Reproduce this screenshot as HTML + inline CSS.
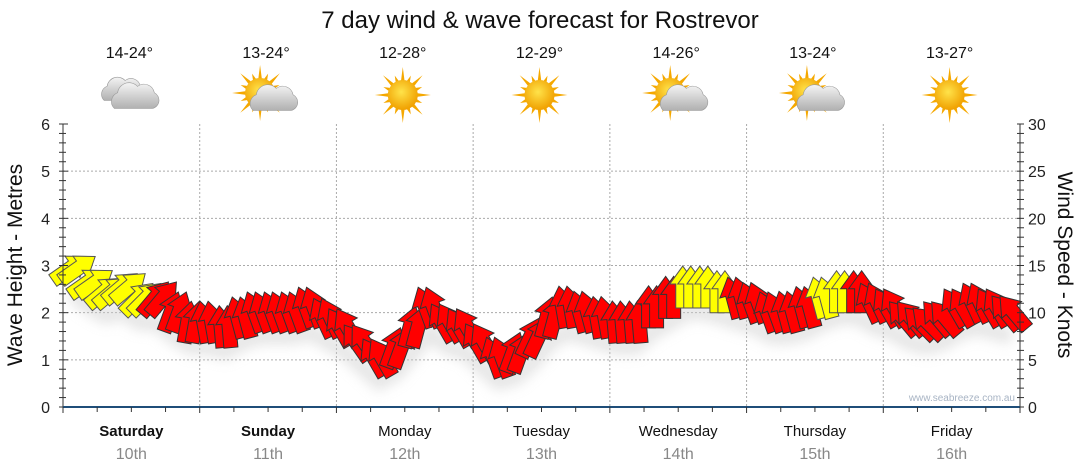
<!DOCTYPE html>
<html><head><meta charset="utf-8">
<style>
body{margin:0;background:#fff;font-family:"Liberation Sans",sans-serif;}
svg{display:block}
</style></head>
<body>
<svg id="chart" width="1080" height="475">
<defs>
<radialGradient id="sunG" cx="0.45" cy="0.4" r="0.6"><stop offset="0" stop-color="#ffe34a"/><stop offset="1" stop-color="#f0a000"/></radialGradient>
<linearGradient id="cloudG" x1="0" y1="0" x2="0" y2="1"><stop offset="0" stop-color="#f4f4f4"/><stop offset="1" stop-color="#b0b0b0"/></linearGradient>
<filter id="sh" x="-50%" y="-50%" width="200%" height="200%"><feGaussianBlur stdDeviation="6"/></filter>
</defs>
<text x="540" y="28" text-anchor="middle" font-size="24" fill="#111">7 day wind &amp; wave forecast for Rostrevor</text>
<g id="grid"></g>
<g id="icons"></g>
<g id="marks"></g>
<g id="axes"></g>
<text x="0" y="0" transform="translate(22,265) rotate(-90)" text-anchor="middle" font-size="21" fill="#111">Wave Height - Metres</text>
<text x="0" y="0" transform="translate(1058,265) rotate(90)" text-anchor="middle" font-size="21" fill="#111">Wind Speed - Knots</text>
<text x="1015" y="401" text-anchor="end" font-size="10" fill="#a8b4c4">www.seabreeze.com.au</text>
</svg>
<script>
const days=["Saturday","Sunday","Monday","Tuesday","Wednesday","Thursday","Friday"];
const dates=["10th","11th","12th","13th","14th","15th","16th"];
const temps=["14-24°","13-24°","12-28°","12-29°","14-26°","13-24°","13-27°"];
const weather=["cloud","partly","sun","sun","partly","partly","sun"];
const waveTicks=[0,1,2,3,4,5,6];
const windTicks=[0,5,10,15,20,25,30];
const windSpeed=[14.5,13,12,12.5,11.3,11.3,9.8,8.7, 8.7,8.2,9.2,9.8,9.8,9.8,10.3,9.2, 8.2,6.6,5,6,8.2,10.3,8.7,8.2, 6.6,5,5.5,7.1,9.2,10.3,9.8,9.2, 8.7,8.7,10.3,11.3,12.4,12.4,11.9,11.3, 10.8,9.8,9.8,10.3,11.3,11.9,11.9,10.8, 10.3,9.2,8.7,9.2,10.3,10.8,10.3,9.8];
const windDir=[55,55,50,50,45,40,20,10, -10,-5,-15,-20,-20,-20,-20,-25, -30,-35,-30,20,15,-20,-30,-30, -30,-20,20,25,15,-10,-15,-10, -5,-5,0,0,0,0,0,-15, -20,-20,-15,-15,-15,0,0,-25, -30,-40,-45,-40,-30,-25,-30,-40];
const windColor=["y","y","y","y","y","r","r","r", "r","r","r","r","r","r","r","r", "r","r","r","r","r","r","r","r", "r","r","r","r","r","r","r","r", "r","r","r","r","y","y","y","r", "r","r","r","r","y","y","r","r", "r","r","r","r","r","r","r","r"];

const NS="http://www.w3.org/2000/svg";
const X0=63,X1=1020,Y0=407,Y1=124,DW=(X1-X0)/7;
const yW=v=>Y0-(v/6)*(Y0-Y1);
const yK=v=>Y0-(v/30)*(Y0-Y1);
const xT=i=>X0+(i+0.5)*DW/8;
function mk(tag,at,parent){const e=document.createElementNS(NS,tag);for(const k in at)e.setAttribute(k,at[k]);parent.appendChild(e);return e;}
const grid=document.getElementById('grid'),axes=document.getElementById('axes'),marks=document.getElementById('marks'),icons=document.getElementById('icons');

waveTicks.forEach(v=>{if(v>0&&v<6){const l=mk('line',{x1:X0,x2:X1,y1:yW(v),y2:yW(v),stroke:'#aaa','stroke-dasharray':'2,2'},grid);

}
const t=mk('text',{x:50,y:yW(v)+6,'text-anchor':'end','font-size':16,fill:'#222'},axes);t.textContent=v;

});
windTicks.forEach(v=>{const t=mk('text',{x:1028,y:yK(v)+6,'font-size':16,fill:'#222'},axes);t.textContent=v;

});
for(let i=0;i<=30;i++){const y=Y0-i*(Y0-Y1)/30;mk('line',{x1:X0-4,x2:X0+(i%5==0?5:3),y1:y,y2:y,stroke:'#333'},axes);mk('line',{x1:X1-3,x2:X1+4,y1:y,y2:y,stroke:'#333'},axes);}
mk('line',{x1:X0,x2:X0,y1:Y1,y2:Y0,stroke:'#333'},axes);
mk('line',{x1:X1,x2:X1,y1:Y1,y2:Y0,stroke:'#333'},axes);
mk('line',{x1:X0,x2:X1,y1:Y0,y2:Y0,stroke:'#1f4e79','stroke-width':2},axes);
for(let i=0;i<=28;i++){const x=X0+i*DW/4;mk('line',{x1:x,x2:x,y1:Y0,y2:Y0+(i%4==0?6:5),stroke:'#333'},axes);}
days.forEach((d,i)=>{const cx=X0+(i+0.5)*DW;
if(i>0){const l=mk('line',{x1:X0+i*DW,x2:X0+i*DW,y1:Y1,y2:Y0,stroke:'#aaa','stroke-dasharray':'2,2'},grid);

}
const t=mk('text',{x:cx,y:436,'text-anchor':'middle','font-size':15,fill:'#111','font-weight':i<2?'bold':'normal'},axes);t.textContent=d;


const t2=mk('text',{x:cx,y:459,'text-anchor':'middle','font-size':16,fill:'#888'},axes);t2.textContent=dates[i];


const t3=mk('text',{x:cx-2,y:58,'text-anchor':'middle','font-size':16,fill:'#111'},icons);t3.textContent=temps[i];


const g=mk('g',{transform:`translate(${cx-2},95)`},icons);


const w=weather[i];
if(w!=='cloud'){const sx=w==='sun'?0:-6,sy=w==='sun'?0:-2;
for(let a=0;a<16;a++){const r=a*Math.PI/8,L=a%2?21:28;mk('polygon',{points:`${sx+Math.cos(r-0.13)*14},${sy+Math.sin(r-0.13)*14} ${sx+Math.cos(r)*L},${sy+Math.sin(r)*L} ${sx+Math.cos(r+0.13)*14},${sy+Math.sin(r+0.13)*14}`,fill:'#f5a800'},g);}
mk('circle',{cx:sx,cy:sy,r:15,fill:'url(#sunG)'},g);}
function cloud(ox,oy,s){mk('path',{d:`M${ox-18*s},${oy+10*s} a${9*s} ${9*s} 0 0 1 ${3*s},${-15*s} a${11*s} ${11*s} 0 0 1 ${19*s},${-6*s} a${10*s} ${10*s} 0 0 1 ${16*s},${6*s} a${8*s} ${8*s} 0 0 1 ${-2*s},${15*s} z`,fill:'url(#cloudG)',stroke:'#999','stroke-width':0.6},g);}
if(w==='cloud'){cloud(-8,-4,0.95);cloud(4,3,1.05);}
if(w==='partly'){cloud(6,5,1.05);}
});

const sp=mk('path',{d:'M'+windSpeed.map((v,i)=>`${xT(i)},${yK(v)+22}`).join(' L'),fill:'none',stroke:'#ccc','stroke-width':16,opacity:0.5,filter:'url(#sh)'},marks);


const arrow="M0,-24 L13,-6 L7,-6 L7,18 L-7,18 L-7,-6 L-13,-6 Z";
windSpeed.forEach((v,i)=>{
[-4,4].forEach(dx=>{
const p=mk('path',{d:arrow,transform:`translate(${xT(i)+dx},${yK(v)}) rotate(${windDir[i]})`,fill:windColor[i]==='y'?'#ffff00':'#ff0000',stroke:windColor[i]==='y'?'#555':'#333','stroke-width':1},marks);


});
});
</script>
</body></html>
